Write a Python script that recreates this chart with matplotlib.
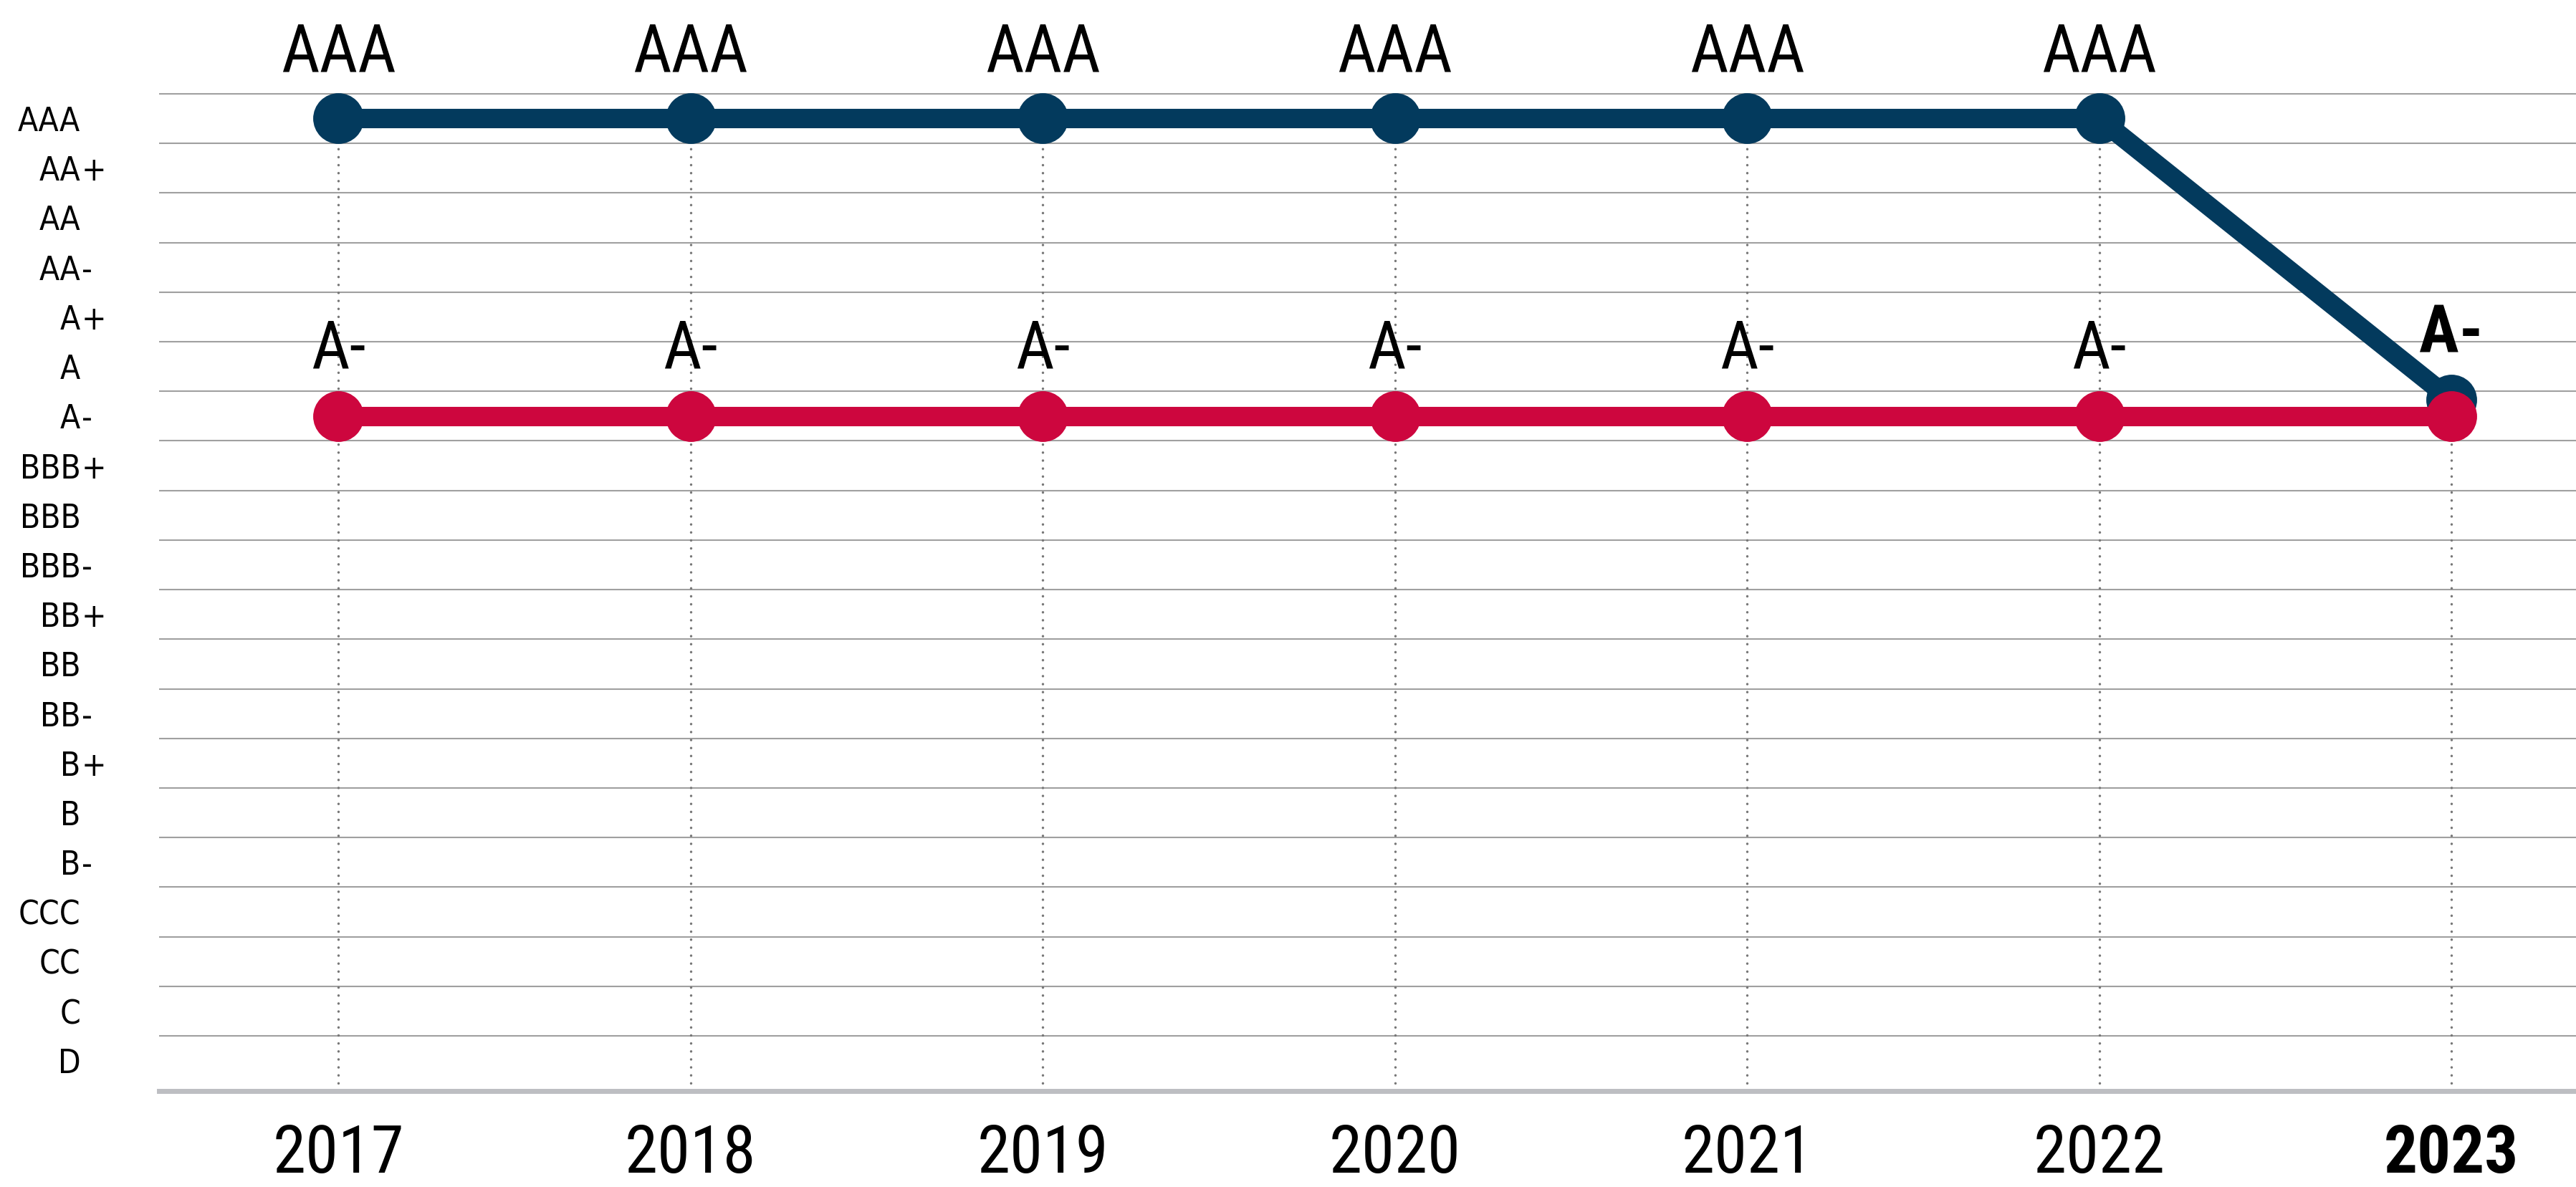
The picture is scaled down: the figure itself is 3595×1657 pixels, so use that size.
import os
import numpy as np
import matplotlib
matplotlib.use('Agg')
import matplotlib.pyplot as plt
from matplotlib import font_manager as fm
from matplotlib.font_manager import FontProperties

# rating scale, bottom to top
ratings = ['D', 'C', 'CC', 'CCC', 'B-', 'B', 'B+', 'BB-', 'BB', 'BB+',
           'BBB-', 'BBB', 'BBB+', 'A-', 'A', 'A+', 'AA-', 'AA', 'AA+', 'AAA']
years = [2017, 2018, 2019, 2020, 2021, 2022, 2023]

# positions on the rating scale (index into ratings)
navy_vals = [19, 19, 19, 19, 19, 19, 13.33]
navy_labels = ['AAA', 'AAA', 'AAA', 'AAA', 'AAA', 'AAA', 'A-']
red_vals = [13, 13, 13, 13, 13, 13, 13]
red_labels = ['A-', 'A-', 'A-', 'A-', 'A-', 'A-', '']

NAVY = '#033a5d'
RED = '#cd063e'

font_files = {os.path.basename(f.fname): f.fname for f in fm.fontManager.ttflist}


def find_font(candidates, size, weight='normal'):
    for c in candidates:
        if c in font_files:
            return FontProperties(fname=font_files[c], size=size)
    return FontProperties(family='Liberation Sans', weight=weight, size=size)


narrow = ['NotoSans-ExtraCondensed.ttf', 'NotoSans-Condensed.ttf',
          'LiberationSansNarrow-Regular.ttf', 'RobotoCondensed-Regular.ttf',
          'DejaVuSansCondensed.ttf']
narrow_bold = ['NotoSans-ExtraCondensedBold.ttf', 'NotoSans-CondensedBold.ttf',
               'LiberationSansNarrow-Bold.ttf', 'RobotoCondensed-Bold.ttf',
               'DejaVuSansCondensed-Bold.ttf']
semi = ['NotoSans-Condensed.ttf', 'NotoSans-SemiCondensed.ttf',
        'LiberationSansNarrow-Regular.ttf', 'DejaVuSansCondensed.ttf']

big_font = find_font(narrow, 67)
big_bold = find_font(narrow_bold, 67, 'bold')
ylab_font = find_font(semi, 33)

W, H = 3595, 1657
left_px, bottom_px = 222, 1523
fig = plt.figure(figsize=(W / 100, H / 100), dpi=100)
ax = fig.add_axes([left_px / W, 1 - bottom_px / H, 1 - left_px / W, bottom_px / H])
ax.set_xlim(2016.491, 2023.354)
ax.set_ylim(-0.61, 21.39)

# grid between rating bands
ax.hlines(np.arange(0.5, 20, 1), 2016.491, 2023.354, colors='#a0a0a0', lw=1.5, zorder=1)

# dotted year guides
top = np.maximum(navy_vals, red_vals)
vl = ax.vlines(years, -0.61, top, colors='#777777', lw=2.5,
               linestyles=[(0, (0.01, 3.2))], zorder=2)
vl.set_capstyle('round')

ax.plot(years, navy_vals, color=NAVY, lw=19.5, marker='o', ms=50,
        solid_capstyle='butt', zorder=3)
ax.plot(years, red_vals, color=RED, lw=19.5, marker='o', ms=50,
        solid_capstyle='butt', zorder=4)

for i, (x, v, lab) in enumerate(zip(years, navy_vals, navy_labels)):
    fp = big_bold if i == len(years) - 1 else big_font
    ax.text(x, v + 0.95, lab, ha='center', va='baseline', fontproperties=fp, zorder=5)
for x, v, lab in zip(years, red_vals, red_labels):
    if lab:
        ax.text(x, v + 0.97, lab, ha='center', va='baseline', fontproperties=big_font, zorder=5)

# y labels: base letters right aligned, +/- hanging to the right
ax.set_yticks(range(len(ratings)))
ax.set_yticklabels([r.rstrip('+-') for r in ratings], fontproperties=ylab_font)
ax.tick_params(axis='y', length=0, pad=79)
trans = ax.get_yaxis_transform()
ax_w = W - left_px
for i, r in enumerate(ratings):
    suf = r[len(r.rstrip('+-')):]
    if suf:
        ax.text((114 - left_px) / ax_w, i, suf, transform=trans, ha='left',
                va='center_baseline', fontproperties=ylab_font)

ax.set_xticks(years)
ax.set_xticklabels([str(y) for y in years], fontproperties=big_font)
ax.get_xticklabels()[-1].set_fontproperties(big_bold)
ax.tick_params(axis='x', length=0, pad=32)

for s in ['left', 'top', 'right']:
    ax.spines[s].set_visible(False)
ax.spines['bottom'].set_color('#bdbec2')
ax.spines['bottom'].set_linewidth(5)

fig.savefig('out.png', dpi=100)
